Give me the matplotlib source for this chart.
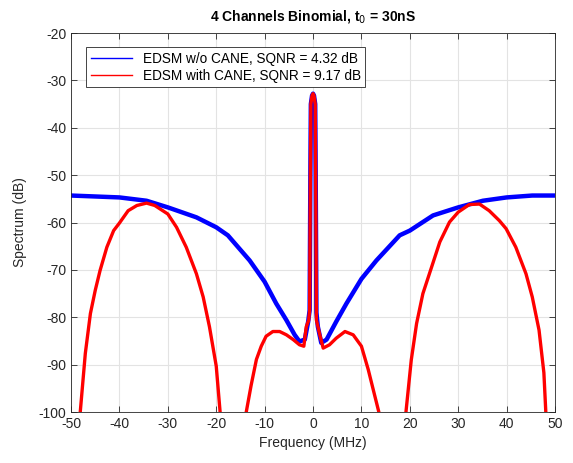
import numpy as np
import matplotlib
matplotlib.use("Agg")
import matplotlib.pyplot as plt
from matplotlib.lines import Line2D

plt.rcParams['font.family'] = ['Liberation Sans', 'DejaVu Sans']
plt.rcParams['axes.unicode_minus'] = False

# EDSM without CANE (blue)
freq_blue = [-50, -45, -40, -34.4, -30, -24.1, -20, -17.6, -13.1, -10, -7.6, -5.5,
             -3.8, -2.8, -1.7, -1.0, -0.7, -0.55, -0.45, -0.2, 0, 0.2, 0.45, 0.55,
             0.7, 1.0, 1.7, 2.8, 4.8, 6.9, 10, 13.1, 17.9, 20, 24.8, 30, 35.1, 40,
             45.3, 50]
spec_blue = [-54.3, -54.5, -54.7, -55.4, -56.8, -58.9, -61, -62.7, -68, -72.5, -77.1,
             -80.6, -83.7, -85.1, -84.7, -80.9, -78.5, -50, -35, -33.2, -32.8, -33.2,
             -35, -50, -79, -82, -85.4, -84.7, -80.9, -77.1, -71.9, -68, -62.7, -61.7,
             -58.5, -56.8, -55.4, -54.7, -54.3, -54.3]

# EDSM with CANE (red); nan splits the segments that drop below the axis
freq_red = [-48.5, -48.1, -47.05, -46.0, -45.0, -44.0, -42.6, -41.2, -40, -38.2, -36.4,
            -34.4, -32.7, -30, -28.2, -26.2, -24.1, -22.7, -21.4, -20, -19.2, -18.9,
            np.nan,
            -14.2, -13.8, -12.8, -11.7, -10.7, -9.7, -8.3, -6.9, -5.5, -4.1, -2.8, -1.9,
            -1.4, -0.9, -0.7, -0.55, -0.45, -0.2, 0, 0.2, 0.45, 0.55, 0.7, 1.4, 2.1,
            3.4, 4.8, 6.6, 8.3, 10, 11.4, 12.4, 13.6, 14.0,
            np.nan,
            18.9, 19.2, 20.3, 21.4, 22.7, 24.5, 26.2, 28.2, 30, 32.3, 34.4, 36.4, 38.5,
            39.9, 41.9, 44, 45.3, 46.7, 47.7, 48.1, 48.4]
spec_red = [-104, -100, -87.6, -79.2, -74.3, -70.1, -65.2, -61.7, -60.1, -57.5, -56.4,
            -55.9, -56.4, -58.2, -61, -65.2, -70.8, -75.7, -82, -90.3, -100, -104,
            np.nan,
            -104, -100, -94.4, -88.9, -86.1, -84, -83, -83, -83.7, -84.7, -85.8, -86.1,
            -82, -80.6, -78.5, -50, -35, -33.2, -32.8, -33.2, -35, -50, -80.6, -83.7,
            -86.5, -85.8, -84.4, -83, -83.7, -86.1, -91, -95.1, -100, -104,
            np.nan,
            -104, -100, -89, -81.3, -75, -69.4, -64.1, -59.9, -57.8, -56.2, -56.1, -57.5,
            -59.6, -61.3, -65.2, -70.8, -75.7, -82.7, -91.7, -100, -104]

fig = plt.figure(figsize=(5.73, 4.63), dpi=100)
ax = fig.add_axes([0.124, 0.110, 0.8446, 0.8187])

ax.plot(freq_blue, spec_blue, color='#0000ff', lw=3.2, solid_joinstyle='round')
ax.plot(freq_red, spec_red, color='#ff0000', lw=2.4, solid_joinstyle='round')

ax.set_xlim(-50, 50)
ax.set_ylim(-100, -20)
ax.set_xticks(np.arange(-50, 51, 10))
ax.set_yticks(np.arange(-100, -19, 10))
ax.grid(True, color='#e3e3e3', lw=0.8)
ax.set_axisbelow(True)
ax.tick_params(direction='in', top=True, right=True, length=4, labelsize=10,
               colors='#262626', width=0.6)
for s in ax.spines.values():
    s.set_color('#262626')
    s.set_linewidth(0.6)

ax.set_xlabel('Frequency (MHz)', fontsize=10, color='#262626')
ax.set_ylabel('Spectrum (dB)', fontsize=10, color='#262626', labelpad=8)
ax.set_title('4 Channels Binomial, t$_0$ = 30nS', fontsize=10, fontweight='bold', pad=9)

handles = [Line2D([], [], color='#0000ff', lw=1.0),
           Line2D([], [], color='#ff0000', lw=1.0)]
labels = ['EDSM w/o CANE, SQNR = 4.32 dB', 'EDSM with CANE, SQNR = 9.17 dB']
leg = ax.legend(handles, labels, loc='upper left', bbox_to_anchor=(0.031, 0.963),
                borderaxespad=0, fontsize=9.8, fancybox=False, framealpha=1,
                handlelength=3.0, borderpad=0.35, labelspacing=0.2)
leg.get_frame().set_edgecolor('#262626')
leg.get_frame().set_linewidth(0.6)

fig.savefig('out.png', dpi=100)
